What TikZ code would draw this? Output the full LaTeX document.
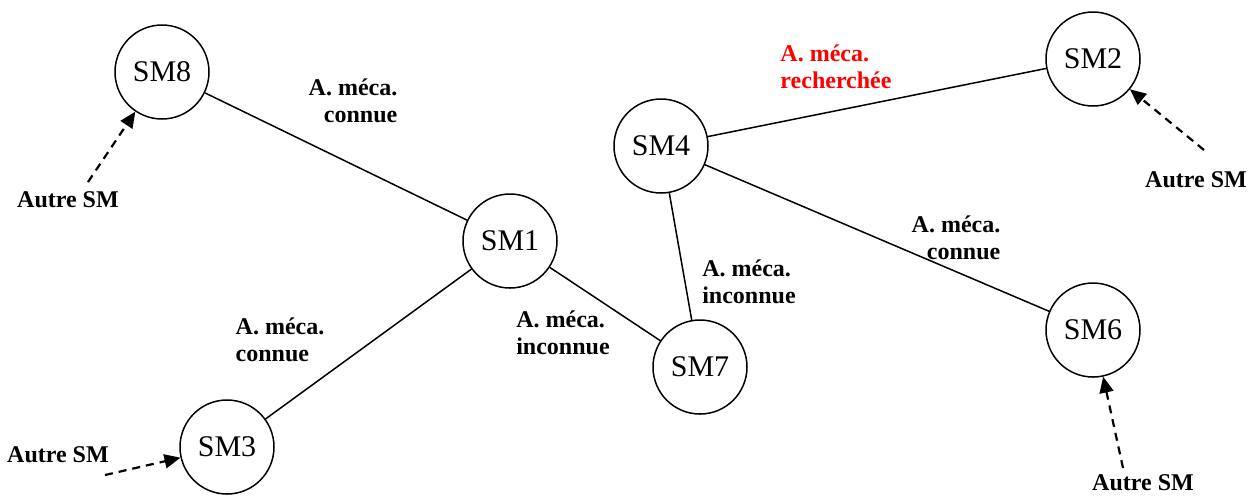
\documentclass[tikz,border=0pt]{standalone}
\usepackage{fontspec}
\setmainfont{Liberation Serif}
\usetikzlibrary{arrows.meta}

\begin{document}
\begin{tikzpicture}
[x=0.5pt,y=-0.5pt,
sm/.style={circle,draw,line width=0.75pt,minimum size=47pt,inner sep=0pt,font=\fontsize{15}{17}\selectfont},
lbl/.style={inner sep=0pt,font=\fontsize{12}{13.5}\selectfont\bfseries},
other/.style={line width=1.1pt,dash pattern=on 4pt off 3pt,-{Triangle[length=8pt,width=7pt]}}]
\useasboundingbox (0,0) rectangle (1254,495);
% nodes
\node[sm] (sm8) at (162,72) {SM8};
\node[sm] (sm1) at (510,241) {SM1};
\node[sm] (sm3) at (227,447) {SM3};
\node[sm] (sm7) at (700,367) {SM7};
\node[sm] (sm4) at (661,146) {SM4};
\node[sm] (sm2) at (1093,59) {SM2};
\node[sm] (sm6) at (1093,330) {SM6};
\foreach \from/\to in {sm8/sm1,sm3/sm1,sm1/sm7,sm4/sm7,sm4/sm2,sm4/sm6}
\draw[line width=0.75pt] (\from) -- (\to);
% labels
\node[lbl,align=right] (l81) at (353,101) {A. méca.\\connue};
\node[lbl,align=left] (l31) at (280,340) {A. méca.\\connue};
\node[lbl,align=left] (l17) at (563,333) {A. méca.\\inconnue};
\node[lbl,align=left] (l47) at (749,282) {A. méca.\\inconnue};
\node[lbl,align=left,text=red] (l42) at (836,67) {A. méca.\\recherchée};
\node[lbl,align=right] (l46) at (956,238) {A. méca.\\connue};
% other SM
\node[lbl] (o8) at (68,200) {Autre SM};
\node[lbl] (o3) at (58,455) {Autre SM};
\node[lbl] (o6) at (1143,483) {Autre SM};
\node[lbl] (o2) at (1196,180) {Autre SM};
\coordinate (t8) at (88,182);
\coordinate (t3) at (105,475);
\coordinate (t6) at (1123,468);
\coordinate (t2) at (1204,150);
\foreach \from/\to in {t8/sm8,t3/sm3,t6/sm6,t2/sm2}
\draw[other] (\from) -- (\to);
\end{tikzpicture}
\end{document}
